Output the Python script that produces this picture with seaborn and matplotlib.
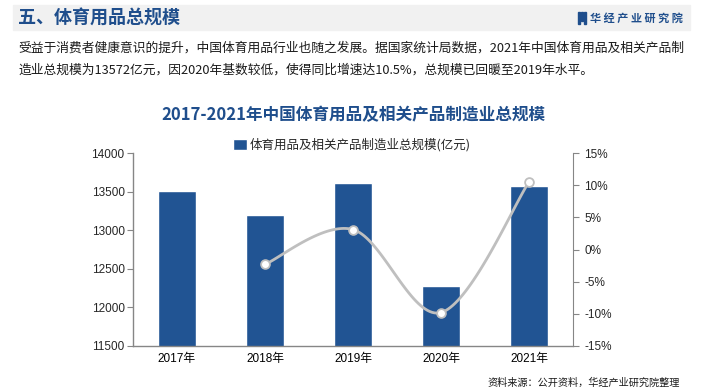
import numpy as np
import pandas as pd
import matplotlib
matplotlib.use('Agg')
import matplotlib.pyplot as plt
from matplotlib.patches import Rectangle
import seaborn as sns

years = ['2017年', '2018年', '2019年', '2020年', '2021年']
scale = [13509, 13201, 13614, 12275, 13572]   # 亿元
growth = [None, -2.3, 3.1, -9.8, 10.5]          # %

left_ticks = [11500, 12000, 12500, 13000, 13500, 14000]
right_ticks = [-15, -10, -5, 0, 5, 10, 15]

sns.set_style('white')
plt.rcParams['font.family'] = ['Liberation Sans', 'Noto Sans CJK SC', 'DejaVu Sans']
plt.rcParams['axes.unicode_minus'] = False

bar_color = '#215493'
title_blue = '#1f4e8c'
line_gray = '#bfbfbf'
axis_gray = '#868686'

df = pd.DataFrame({'年份': years, '规模': scale})

fig = plt.figure(figsize=(7.05, 3.92), dpi=100)

# header band
fig.patches.append(Rectangle((13 / 705, 1 - 30 / 392), 677 / 705, 25 / 392,
                             transform=fig.transFigure, color='#f1f1f1', zorder=0))
fig.text(18 / 705, 1 - 18 / 392, '五、体育用品总规模', fontsize=13, fontweight='bold',
         color=title_blue, va='center', ha='left', family=['Noto Sans CJK SC'])
for i, h in enumerate([12, 9, 12]):
    fig.patches.append(Rectangle(((578 + i * 3.2) / 705, 1 - (12 + h) / 392), 2 / 705, h / 392,
                                 transform=fig.transFigure, color=title_blue, zorder=1))
fig.text(590 / 705, 1 - 18 / 392, '华 经 产 业 研 究 院', fontsize=8, fontweight='bold',
         color=title_blue, va='center', ha='left', family=['Noto Sans CJK SC'])

# paragraph
para1 = '受益于消费者健康意识的提升，中国体育用品行业也随之发展。据国家统计局数据，2021年中国体育用品及相关产品制'
para2 = '造业总规模为13572亿元，因2020年基数较低，使得同比增速达10.5%，总规模已回暖至2019年水平。'
fig.text(18 / 705, 1 - 48 / 392, para1, fontsize=9.2, color='#1a1a1a', va='center', ha='left',
         family=['Noto Sans CJK SC'])
fig.text(18 / 705, 1 - 70 / 392, para2, fontsize=9.2, color='#1a1a1a', va='center', ha='left',
         family=['Noto Sans CJK SC'])

# chart title
fig.text(353 / 705, 1 - 115 / 392, '2017-2021年中国体育用品及相关产品制造业总规模', fontsize=12,
         fontweight='bold', color=title_blue, va='center', ha='center',
         family=['Noto Sans CJK SC'])

ax = fig.add_axes([133 / 705, 1 - 346 / 392, 440 / 705, 193 / 392])
sns.barplot(data=df, x='年份', y='规模', color=bar_color, width=0.44, saturation=1,
            ax=ax, label='体育用品及相关产品制造业总规模(亿元)')
ax.set_ylim(11500, 14000)
ax.set_yticks(left_ticks)
ax.set_xlim(-0.5, 4.5)
ax.set_xlabel('')
ax.set_ylabel('')
ax.set_xticks(range(len(years)))
ax.set_xticklabels(years)
ax.tick_params(axis='x', length=0, labelsize=8.5, pad=5, colors='black')
ax.set_xticks([0.5, 1.5, 2.5, 3.5, 4.5], minor=True)
ax.tick_params(axis='x', which='minor', length=4, color=axis_gray, direction='out')
ax.tick_params(axis='y', length=4, labelsize=8.5, color=axis_gray, direction='out', pad=2)
for side in ['top', 'right']:
    ax.spines[side].set_visible(False)
for side in ['left', 'bottom']:
    ax.spines[side].set_color(axis_gray)
    ax.spines[side].set_linewidth(1)

# growth line on the right axis, smoothed between the data points
ax2 = ax.twinx()
gx = np.array([i for i, g in enumerate(growth) if g is not None], dtype=float)
gy = np.array([g for g in growth if g is not None], dtype=float)
pts = np.column_stack([gx, gy])
curve = []
t = np.linspace(0, 1, 40)
for i in range(len(pts) - 1):
    p0 = pts[i - 1] if i > 0 else pts[i]
    p1 = pts[i]
    p2 = pts[i + 1]
    p3 = pts[i + 2] if i + 2 < len(pts) else pts[i + 1]
    c1 = p1 + (p2 - p0) / 6
    c2 = p2 - (p3 - p1) / 6
    seg = ((1 - t) ** 3)[:, None] * p1 + (3 * (1 - t) ** 2 * t)[:, None] * c1 \
        + (3 * (1 - t) * t ** 2)[:, None] * c2 + (t ** 3)[:, None] * p2
    curve.append(seg)
curve = np.vstack(curve)
ax2.plot(curve[:, 0], curve[:, 1], color=line_gray, lw=2, zorder=3)
sns.scatterplot(x=gx, y=gy, ax=ax2, s=40, color='white', edgecolor=line_gray, linewidth=1.3,
                zorder=4, legend=False)
ax2.set_ylim(-15, 15)
ax2.set_yticks(right_ticks)
ax2.set_yticklabels([f'{v}%' for v in right_ticks])
ax2.tick_params(axis='y', length=4, labelsize=8.5, color=axis_gray, direction='out', pad=4)
for side in ['top', 'left', 'bottom']:
    ax2.spines[side].set_visible(False)
ax2.spines['right'].set_color(axis_gray)
ax2.set_xlim(-0.5, 4.5)
ax2.grid(False)

h, l = ax.get_legend_handles_labels()
fig.legend(h, l, loc='center', bbox_to_anchor=(352 / 705, 1 - 145 / 392), frameon=False,
           handlelength=1.1, handleheight=0.9, handletextpad=0.2,
           prop={'family': ['Noto Sans CJK SC'], 'size': 9})
if ax.get_legend() is not None:
    ax.get_legend().remove()

fig.text(680 / 705, 1 - 383 / 392, '资料来源：公开资料，华经产业研究院整理', fontsize=7.3,
         color='#1a1a1a', va='center', ha='right', family=['Noto Sans CJK SC'])

fig.savefig('out.png', dpi=100)
